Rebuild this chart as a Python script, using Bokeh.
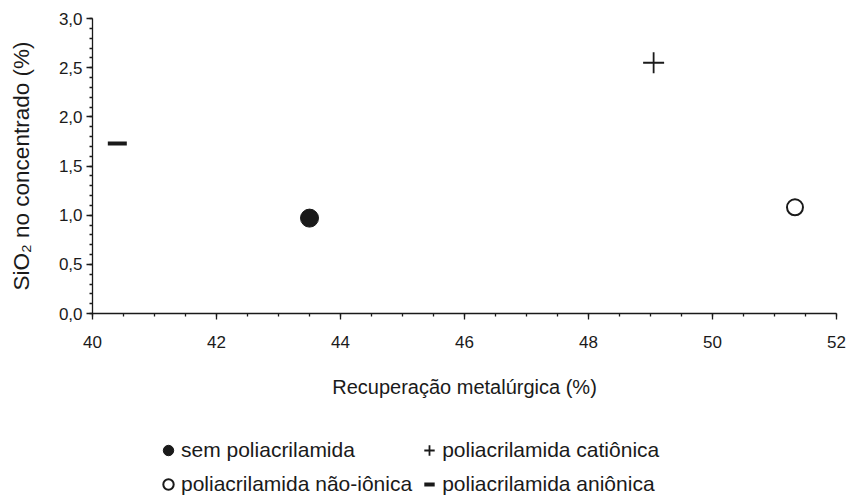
import math
from bokeh.plotting import figure
from bokeh.models import (Legend, LegendItem, FixedTicker, CustomJSTickFormatter,
                          Range1d, Label)
from bokeh.embed import file_html
from bokeh.resources import INLINE

# Data
labels = ["sem poliacrilamida", "poliacrilamida catiônica",
          "poliacrilamida não-iônica", "poliacrilamida aniônica"]
recuperacao = [43.5, 49.05, 51.33, 40.4]
sio2 = [0.97, 2.55, 1.08, 1.73]
x_ticks = [40, 42, 44, 46, 48, 50, 52]
y_ticks = [0.0, 0.5, 1.0, 1.5, 2.0, 2.5, 3.0]
x_title = "Recuperação metalúrgica (%)"
y_title = "SiO₂ no concentrado (%)"

FONT = "Liberation Sans"
INK = "#1a1a1a"

W, H = 855, 499
p = figure(width=W, height=H, output_backend="svg", toolbar_location=None,
           x_range=Range1d(38.516, 52.306), y_range=Range1d(-1.8915, 3.1831),
           min_border=0)
p.outline_line_color = None
p.xgrid.grid_line_color = None
p.ygrid.grid_line_color = None

r_sem = p.scatter([recuperacao[0]], [sio2[0]], marker="circle", size=18,
                  fill_color=INK, line_color=INK)
r_cat = p.scatter([recuperacao[1]], [sio2[1]], marker="cross", size=21,
                  line_color=INK, line_width=1.8)
r_non = p.scatter([recuperacao[2]], [sio2[2]], marker="circle", size=16,
                  fill_color=None, line_color=INK, line_width=2)
r_ani = p.scatter([recuperacao[3]], [sio2[3]], marker="dash", size=19,
                  line_color=INK, line_width=4)

for ax in (p.xaxis[0], p.yaxis[0]):
    ax.axis_line_color = INK
    ax.axis_line_width = 1.3
    ax.major_tick_line_color = INK
    ax.minor_tick_line_color = INK
    ax.major_tick_line_width = 1.3
    ax.minor_tick_line_width = 1.3
    ax.major_tick_in = 0
    ax.major_tick_out = 6
    ax.minor_tick_in = 0
    ax.minor_tick_out = 3
    ax.major_label_text_font = FONT
    ax.major_label_text_font_size = "17px"
    ax.major_label_text_color = INK

p.xaxis.fixed_location = y_ticks[0]
p.yaxis.fixed_location = x_ticks[0]
p.xaxis.bounds = (x_ticks[0], x_ticks[-1])
p.yaxis.bounds = (y_ticks[0], y_ticks[-1])
p.xaxis.ticker = FixedTicker(ticks=x_ticks,
                             minor_ticks=[40 + 0.5 * i for i in range(25)])
p.yaxis.ticker = FixedTicker(ticks=y_ticks,
                             minor_ticks=[round(0.1 * i, 1) for i in range(31)])
p.yaxis.formatter = CustomJSTickFormatter(code="return tick.toFixed(1).replace('.', ',');")
p.xaxis.formatter = CustomJSTickFormatter(code="return tick.toFixed(0);")
p.xaxis.major_label_standoff = 16
p.yaxis.major_label_standoff = 4

# axis titles
p.add_layout(Label(x=(x_ticks[0] + x_ticks[-1]) / 2, y=113, x_units="data", y_units="screen",
                   text=x_title, text_align="center", text_baseline="alphabetic",
                   text_font=FONT, text_font_size="20px", text_color=INK))
p.add_layout(Label(x=21, y=(y_ticks[0] + y_ticks[-1]) / 2, x_units="screen", y_units="data",
                   text=y_title, angle=math.pi / 2, text_align="center",
                   text_baseline="middle",
                   text_font=FONT, text_font_size="22.5px", text_color=INK))

legend = Legend(items=[
    LegendItem(label=labels[0], renderers=[r_sem]),
    LegendItem(label=labels[2], renderers=[r_non]),
    LegendItem(label=labels[1], renderers=[r_cat]),
    LegendItem(label=labels[3], renderers=[r_ani]),
], ncols=2, location=(155, 0), orientation="vertical",
    glyph_width=26, glyph_height=30, label_standoff=0, spacing=4,
    label_text_font=FONT, label_text_font_size="21px", label_text_color=INK,
    border_line_color=None, background_fill_alpha=0, padding=0, margin=0)
p.add_layout(legend, "center")

open("out.html", "w").write(file_html(p, INLINE))
